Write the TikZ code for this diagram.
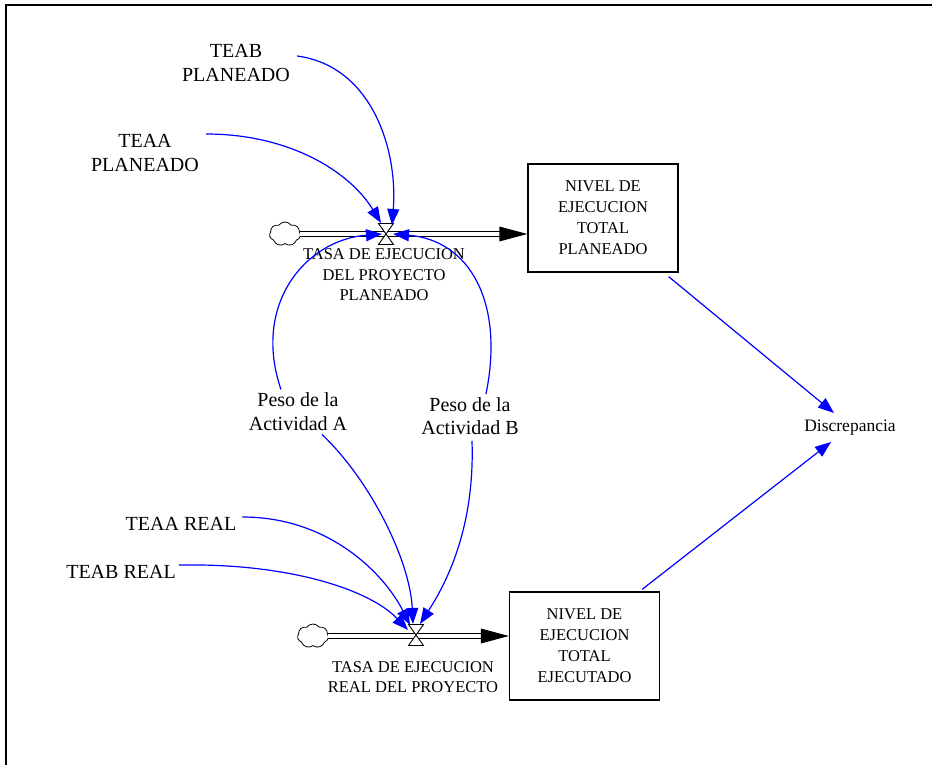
\documentclass[tikz,border=0pt]{standalone}
\usepackage{fontspec}
\setmainfont{Liberation Serif}
\usetikzlibrary{arrows.meta,shapes.symbols}

\tikzset{
  bigtxt/.style={align=center,inner sep=0pt,font=\fontsize{20}{23.5}\selectfont},
  smalltxt/.style={align=center,inner sep=0pt,font=\fontsize{16.5}{20.5}\selectfont},
  stock/.style={draw=black,line width=1.3pt,minimum width=150pt,minimum height=108pt,
                align=center,inner sep=0pt,font=\fontsize{16.5}{21}\selectfont},
  link/.style={draw=blue,line width=1.2pt,-{Triangle[length=16pt,width=12pt]}},
  pipe/.style={draw=black,line width=1.2pt,double=white,double distance=3.2pt},
  valve/.style={draw=black,line width=0.9pt,fill=white},
  source/.style={cloud,draw=black,line width=0.8pt,cloud puffs=7,cloud puff arc=110,
                 aspect=1.35,minimum width=31pt,minimum height=24pt,inner sep=0pt,outer sep=0pt},
  frame/.style={draw=black,line width=2pt}
}

\begin{document}
\begin{tikzpicture}[x=1pt,y=-1pt]
\useasboundingbox (0,0) rectangle (932,765);

% outer frame (top and left edges)
\draw[frame] (6,765) -- (6,5) -- (932,5);

% stocks
\node[stock] (stockp) at (603,218) {NIVEL DE\\EJECUCION\\TOTAL\\PLANEADO};
\node[stock] (stockr) at (584.5,646) {NIVEL DE\\EJECUCION\\TOTAL\\EJECUTADO};

% sources
\node[source] (cloudp) at (285,234) {};
\node[source] (cloudr) at (313,636) {};

% valves
\coordinate (vp) at (386,234);
\coordinate (vr) at (416,635);

% flow pipes
\draw[pipe,shorten >=26pt] (cloudp.east) -- (cloudp.east -| stockp.west);
\fill[black] (cloudp.east -| stockp.west) -- ++(-28,-7.5) -- ++(0,15) -- cycle;
\draw[pipe,shorten >=26pt] (cloudr.east) -- (cloudr.east -| stockr.west);
\fill[black] (cloudr.east -| stockr.west) -- ++(-28,-7.5) -- ++(0,15) -- cycle;

\draw[valve,shift={(vp)}] (-7.5,-10.5) -- (7.5,-10.5) -- (-7.5,10.5) -- (7.5,10.5) -- cycle;
\draw[valve,shift={(vr)}] (-7.5,-10.5) -- (7.5,-10.5) -- (-7.5,10.5) -- (7.5,10.5) -- cycle;

% flow labels
\node[smalltxt] (tasap) at (384,275) {TASA DE EJECUCION\\DEL PROYECTO\\PLANEADO};
\node[smalltxt] (tasar) at (413,677) {TASA DE EJECUCION\\REAL DEL PROYECTO};

% auxiliaries
\node[bigtxt] (teabp) at (236,63) {TEAB\\PLANEADO};
\node[bigtxt] (teaap) at (145,153) {TEAA\\PLANEADO};
\node[bigtxt] (pesoA) at (298,411.5) {Peso de la\\Actividad A};
\node[bigtxt] (pesoB) at (470,416) {Peso de la\\Actividad B};
\node[bigtxt] (teaar) at (181,524) {TEAA REAL};
\node[bigtxt] (teabr) at (121,572) {TEAB REAL};
\node[smalltxt,font=\fontsize{17.5}{20}\selectfont] (discrep) at (850,428) {Discrepancia};

% links into the planned rate
\draw[link] ([shift={(7,-7)}]teabp.east) .. controls (372,66) and (398,150) .. ([shift={(6,-9)}]vp);
\draw[link] ([shift={(7,-19)}]teaap.east) .. controls (290,134) and (350,172) .. ([shift={(-5,-11)}]vp);
\draw[link] ([shift={(-17,-3)}]pesoA.north) .. controls (252,305) and (305,240) .. ([shift={(-4,0)}]vp);
\draw[link] ([shift={(16,-3)}]pesoB.north) .. controls (505,300) and (468,240) .. ([shift={(7,0)}]vp);

% links into the real rate
\draw[link] ([shift={(24,4)}]pesoA.south) .. controls (370,480) and (410,560) .. ([shift={(-3,-11)}]vr);
\draw[link] ([shift={(2,6)}]pesoB.south) .. controls (475,530) and (445,585) .. ([shift={(4,-11)}]vr);
\draw[link] ([shift={(6,-7)}]teaar.east) .. controls (330,517) and (385,575) .. ([shift={(-6,-10)}]vr);
\draw[link] ([shift={(3,-7)}]teabr.east) .. controls (290,563) and (370,590) .. ([shift={(-8,-5)}]vr);

% links into the discrepancy
\draw[link] ([shift={(-10,4)}]stockp.south east) -- ([shift={(-16,-15)}]discrep.center);
\draw[link] ([shift={(-18,-2)}]stockr.north east) -- ([shift={(-19,14)}]discrep.center);
\end{tikzpicture}
\end{document}
